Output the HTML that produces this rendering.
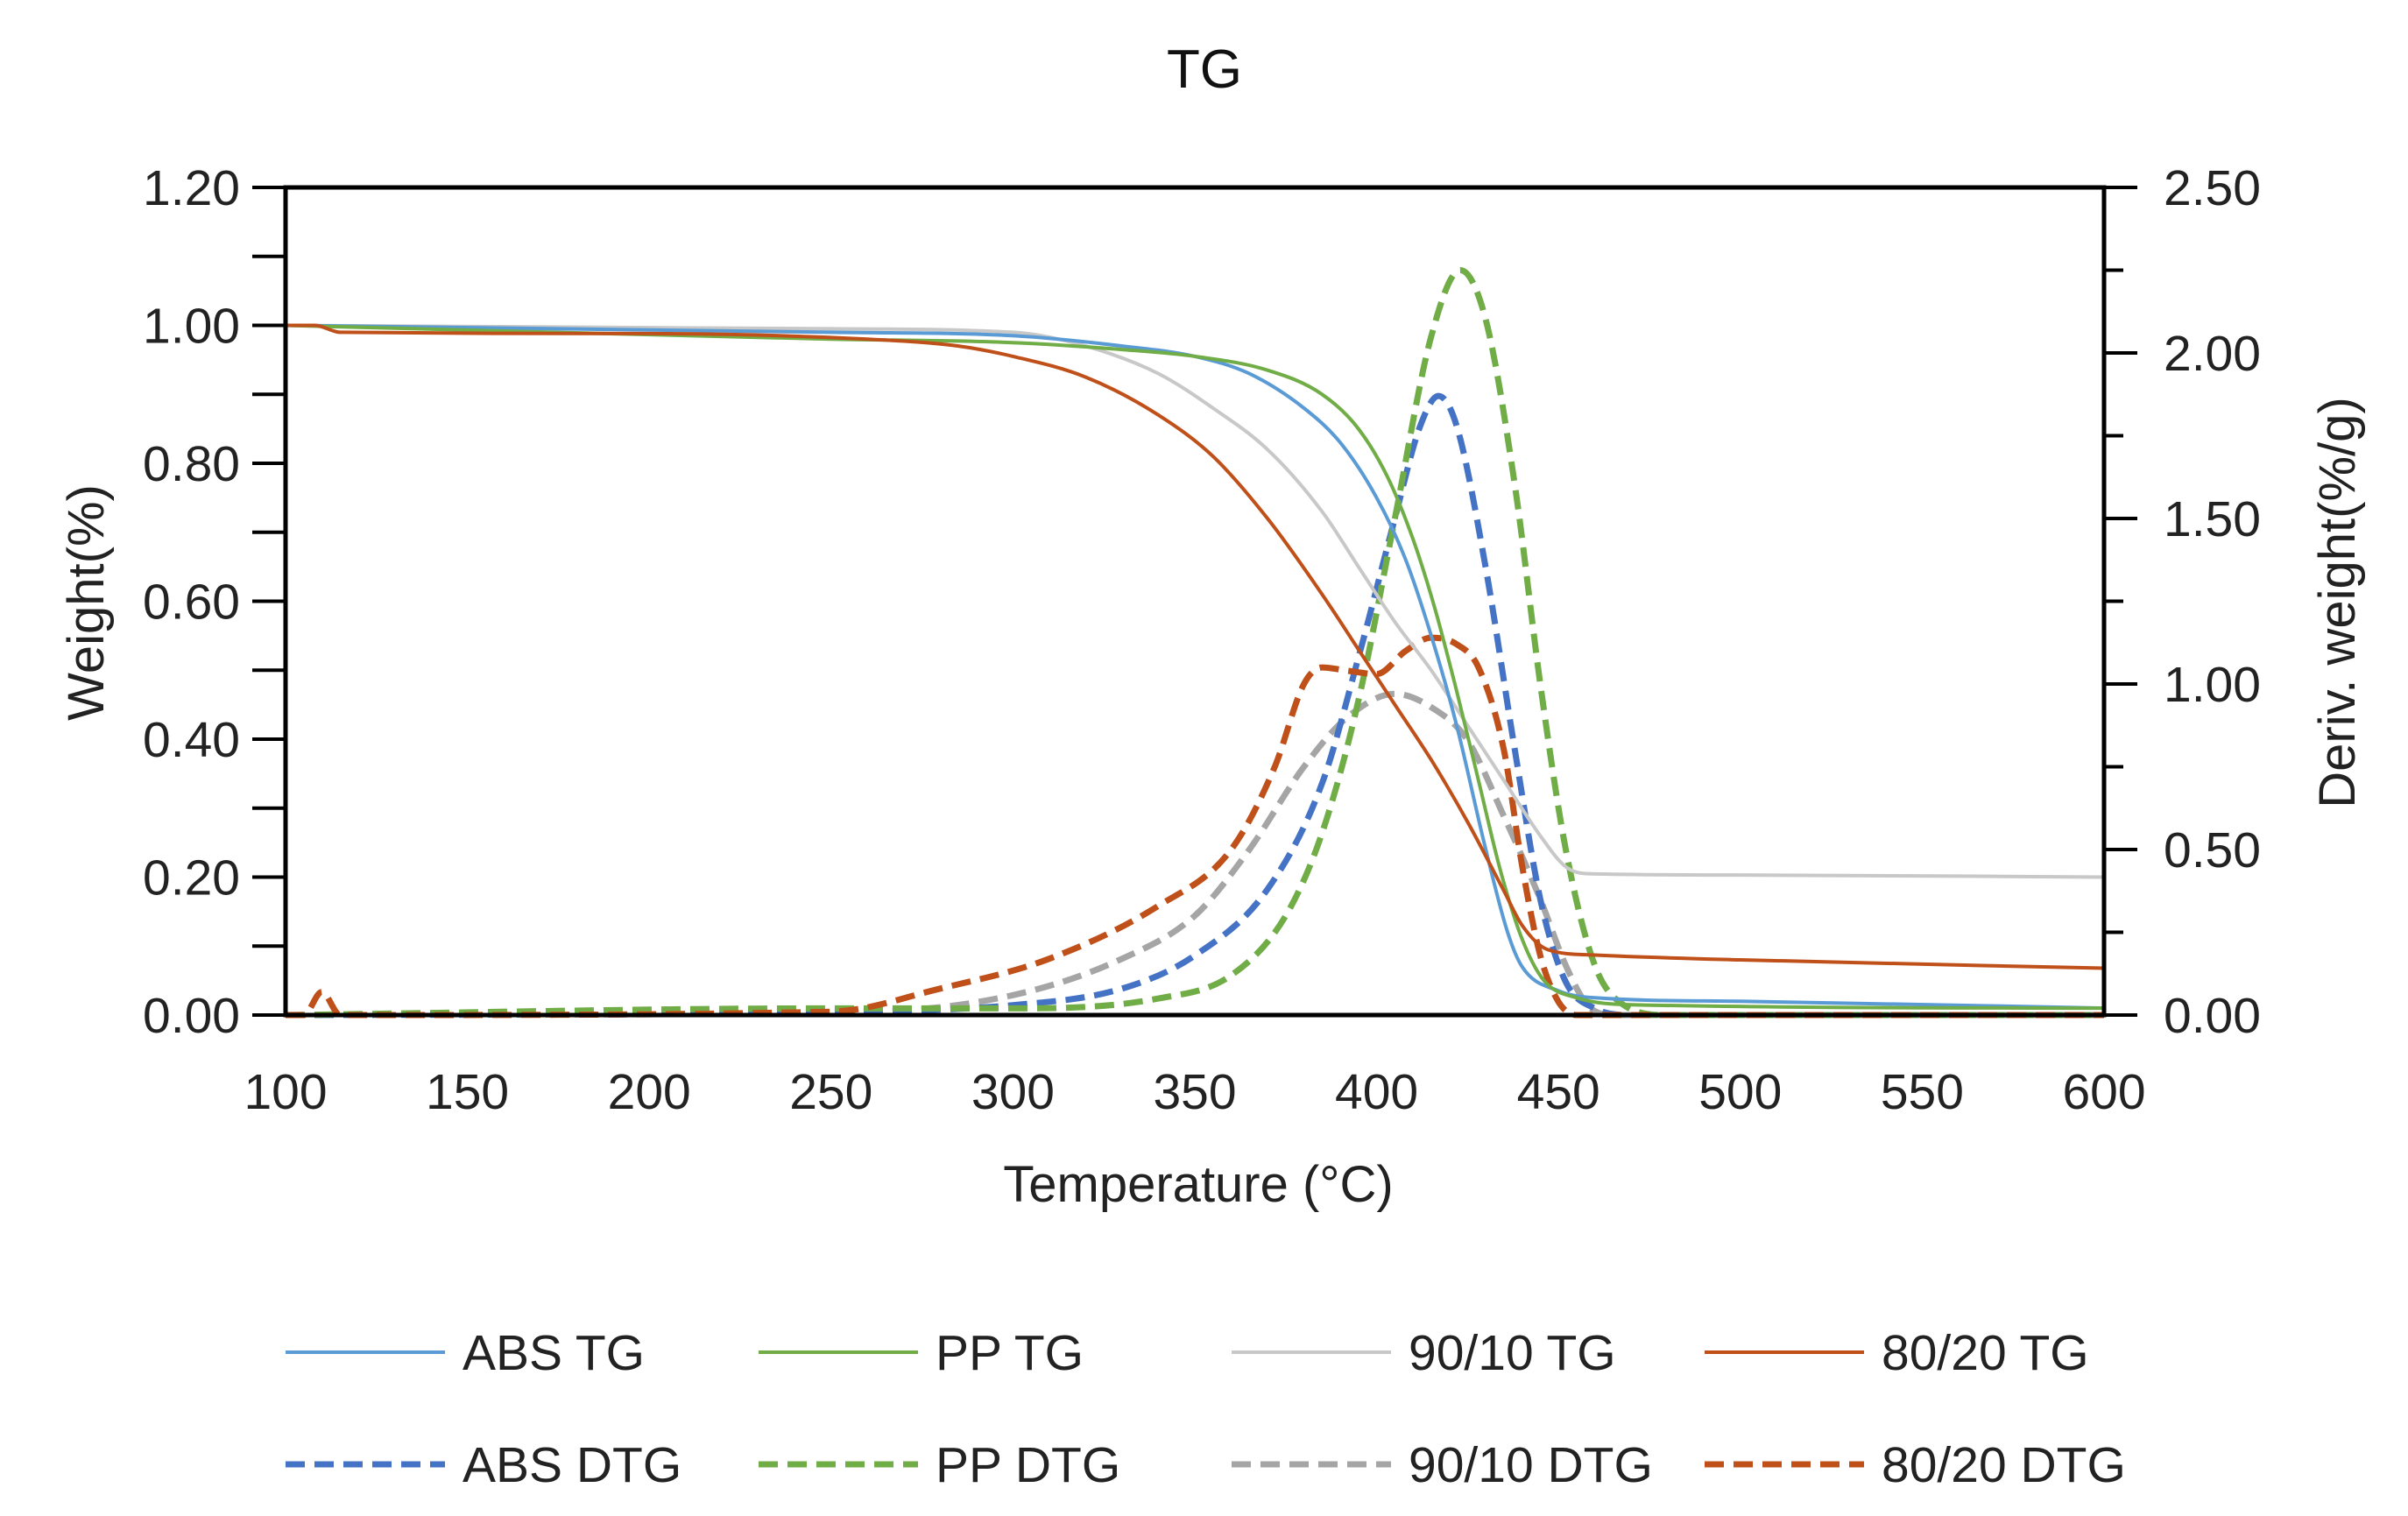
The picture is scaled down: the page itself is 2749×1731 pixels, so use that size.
<!DOCTYPE html>
<html><head><meta charset="utf-8"><style>
html,body{margin:0;padding:0;background:#fff;}
svg{display:block;font-family:"Liberation Sans",sans-serif;}
</style></head><body>
<svg id="chart" width="2749" height="1731" viewBox="0 0 2749 1731" xmlns="http://www.w3.org/2000/svg">
<rect width="2749" height="1731" fill="#fff"/>
<text x="1375" y="100" font-size="62" text-anchor="middle" fill="#111">TG</text>
<g id="series"></g>
<g id="axes"></g>
<g id="legend"></g>
<text x="1368" y="1372" font-size="58" text-anchor="middle" fill="#222">Temperature (°C)</text>
<text transform="translate(118,688) rotate(-90)" font-size="58" text-anchor="middle" fill="#222">Weight(%)</text>
<text transform="translate(2688,688) rotate(-90)" font-size="58" text-anchor="middle" fill="#222">Deriv. weight(%/g)</text>
</svg>
<script>
const xTicks=[100,150,200,250,300,350,400,450,500,550,600];
const yLeftTicks=["0.00","0.20","0.40","0.60","0.80","1.00","1.20"];
const yRightTicks=["0.00","0.50","1.00","1.50","2.00","2.50"];
const absTgX=[100,250,300,330,350,365,380,390,400,408,415,422,430,436,440,450,460,500,600];
const absTgY=[1.0,0.99,0.985,0.97,0.955,0.93,0.88,0.83,0.75,0.66,0.55,0.42,0.24,0.12,0.07,0.035,0.025,0.02,0.01];
const ppTgX=[100,250,300,330,350,370,385,395,403,410,416,422,428,434,440,446,455,470,600];
const ppTgY=[1.0,0.98,0.975,0.965,0.955,0.935,0.9,0.85,0.78,0.69,0.59,0.47,0.34,0.21,0.11,0.05,0.025,0.015,0.01];
const g91TgX=[100,250,300,320,340,355,370,385,395,405,415,425,435,445,452,458,500,600];
const g91TgY=[1.0,0.995,0.99,0.97,0.93,0.88,0.82,0.73,0.65,0.57,0.5,0.42,0.34,0.26,0.215,0.205,0.203,0.2];
const b82TgX=[100,108,115,200,260,285,300,320,340,355,370,385,395,405,415,425,435,440,447,460,500,600];
const b82TgY=[1.0,1.0,0.99,0.988,0.98,0.97,0.955,0.925,0.87,0.81,0.72,0.61,0.53,0.45,0.37,0.28,0.18,0.13,0.095,0.087,0.08,0.068];
const absDtgX=[100,250,300,330,350,370,385,395,405,412,417,422,430,438,445,452,460,470,600];
const absDtgY=[0,0.01,0.03,0.08,0.18,0.38,0.7,1.08,1.5,1.78,1.87,1.78,1.35,0.8,0.35,0.1,0.02,0,0];
const ppDtgX=[100,250,300,340,360,375,385,395,405,415,423,430,438,445,452,460,468,480,600];
const ppDtgY=[0,0.02,0.02,0.05,0.12,0.3,0.55,0.95,1.5,2.05,2.25,2.1,1.6,1.0,0.5,0.15,0.03,0,0];
const g91DtgX=[100,260,300,330,350,365,380,392,405,415,425,435,445,452,458,465,600];
const g91DtgY=[0,0.01,0.06,0.17,0.3,0.5,0.75,0.9,0.97,0.93,0.83,0.6,0.35,0.15,0.03,0,0];
const b82DtgX=[100,105,110,115,250,280,310,340,360,372,380,385,392,400,408,415,422,428,435,440,445,450,455,600];
const b82DtgY=[0,0,0.07,0,0.01,0.08,0.17,0.33,0.5,0.75,1.0,1.05,1.04,1.03,1.1,1.14,1.12,1.05,0.8,0.45,0.18,0.04,0,0];

const NS="http://www.w3.org/2000/svg";
const L=326,R=2402,T=214,B=1159;
const sx=v=>L+(v-100)/500*(R-L);
const syL=v=>B-v/1.2*(B-T);
const syR=v=>B-v/2.5*(B-T);
function mk(tag,attrs,parent){const e=document.createElementNS(NS,tag);for(const k in attrs)e.setAttribute(k,attrs[k]);parent.appendChild(e);return e;}
const axes=document.getElementById('axes'),series=document.getElementById('series'),legend=document.getElementById('legend');

function pathD(xs,ys,sy){
  const n=xs.length, m=[], d=[];
  for(let i=0;i<n-1;i++) d.push((ys[i+1]-ys[i])/(xs[i+1]-xs[i]));
  m[0]=d[0]; m[n-1]=d[n-2];
  for(let i=1;i<n-1;i++){ m[i]=(d[i-1]*d[i]<=0)?0:(d[i-1]+d[i])/2; }
  for(let i=0;i<n-1;i++){
    if(d[i]===0){m[i]=0;m[i+1]=0;continue;}
    const a=m[i]/d[i],b=m[i+1]/d[i],s=a*a+b*b;
    if(s>9){const t=3/Math.sqrt(s);m[i]=t*a*d[i];m[i+1]=t*b*d[i];}
  }
  let out="M"+sx(xs[0]).toFixed(1)+","+sy(ys[0]).toFixed(1);
  for(let i=0;i<n-1;i++){
    const h=xs[i+1]-xs[i];
    out+=" C"+sx(xs[i]+h/3).toFixed(1)+","+sy(ys[i]+m[i]*h/3).toFixed(1)+" "+sx(xs[i+1]-h/3).toFixed(1)+","+sy(ys[i+1]-m[i+1]*h/3).toFixed(1)+" "+sx(xs[i+1]).toFixed(1)+","+sy(ys[i+1]).toFixed(1);
  }
  return out;
}
const defs=[
 ["abs-tg",absTgX,absTgY,syL,"#5b9bd5",false,"ABS TG"],
 ["pp-tg",ppTgX,ppTgY,syL,"#70ad47",false,"PP TG"],
 ["90-10-tg",g91TgX,g91TgY,syL,"#c8c8c8",false,"90/10 TG"],
 ["80-20-tg",b82TgX,b82TgY,syL,"#c0501a",false,"80/20 TG"],
 ["abs-dtg",absDtgX,absDtgY,syR,"#4472c4",true,"ABS DTG"],
 ["pp-dtg",ppDtgX,ppDtgY,syR,"#70ad47",true,"PP DTG"],
 ["90-10-dtg",g91DtgX,g91DtgY,syR,"#a5a5a5",true,"90/10 DTG"],
 ["80-20-dtg",b82DtgX,b82DtgY,syR,"#c0501a",true,"80/20 DTG"]
];
const order=[6,4,5,7,2,0,1,3];
order.forEach(i=>{
  const s=defs[i];
  const e=mk('path',{d:pathD(s[1],s[2],s[3]),fill:"none",stroke:s[4],"stroke-width":s[5]?7:4,"stroke-dasharray":s[5]?"22,11":"none","stroke-linejoin":"round"},series);
  
  
});
mk('rect',{x:L,y:T,width:R-L,height:B-T,fill:"none",stroke:"#000","stroke-width":5},axes);
for(let v=0;v<=1.2001;v+=0.1){const y=syL(v);mk('line',{x1:L-38,x2:L,y1:y,y2:y,stroke:"#000","stroke-width":4},axes);}
yLeftTicks.forEach(t=>{const e=mk('text',{x:L-52,y:syL(+t)+20,"font-size":57,"text-anchor":"end",fill:"#222"},axes);e.textContent=t;
 
 });
for(let v=0;v<=2.5001;v+=0.25){const y=syR(v);const len=(Math.round(v*4)%2===0)?38:22;mk('line',{x1:R,x2:R+len,y1:y,y2:y,stroke:"#000","stroke-width":4},axes);}
yRightTicks.forEach(t=>{const e=mk('text',{x:R+68,y:syR(+t)+20,"font-size":57,"text-anchor":"start",fill:"#222"},axes);e.textContent=t;
 
 });
xTicks.forEach(t=>{const e=mk('text',{x:sx(t),y:1266,"font-size":57,"text-anchor":"middle",fill:"#222"},axes);e.textContent=t;
 
 });
const colX=[326,866,1406,1946];
const rowY=[1544,1672];
[0,1,2,3,4,5,6,7].forEach(i=>{
  const s=defs[i];const c=i%4,r=Math.floor(i/4);
  const g=mk('g',{},legend);
  
  
  mk('line',{x1:colX[c],x2:colX[c]+182,y1:rowY[r],y2:rowY[r],stroke:s[4],"stroke-width":s[5]?7:4,"stroke-dasharray":s[5]?"22,11":"none"},g);
  const tx=mk('text',{x:colX[c]+202,y:rowY[r]+20,"font-size":57,fill:"#222"},g);tx.textContent=s[6];
});
</script>
</body></html>
